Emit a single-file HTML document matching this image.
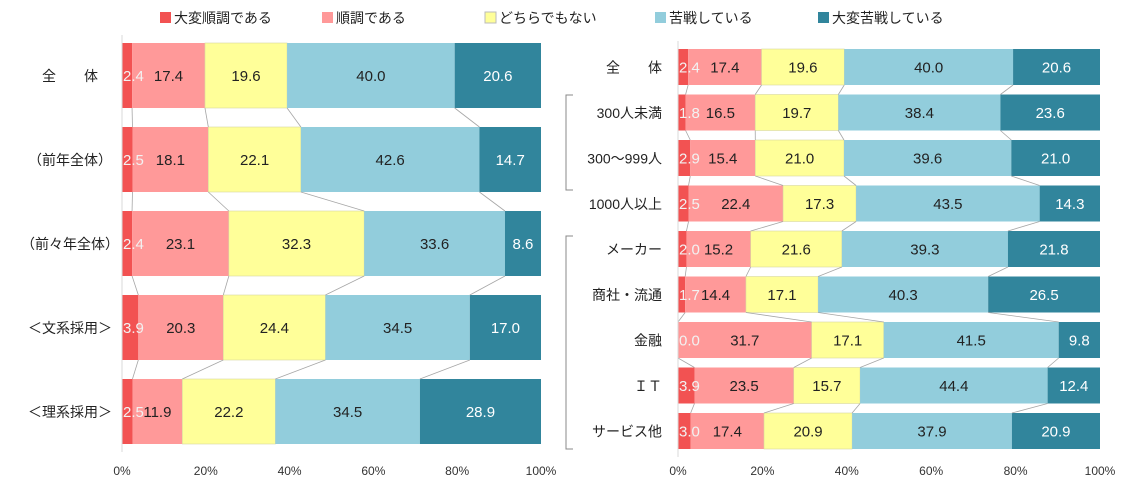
<!DOCTYPE html>
<html><head><meta charset="utf-8">
<style>
body{margin:0;background:#fff;}
svg{display:block;font-family:"Liberation Sans","Noto Sans CJK JP",sans-serif;}
</style></head>
<body>
<svg id="c" width="1131" height="492" viewBox="0 0 1131 492" xmlns="http://www.w3.org/2000/svg"></svg>
<script>
const seriesNames=["大変順調である","順調である","どちらでもない","苦戦している","大変苦戦している"];
const colors=["#f25252","#ff9999","#ffff99","#92cddc","#31859c"];
const labelColors=["#f2f2f2","#222","#222","#222","#fff"];
const leftCats=["全　　体","（前年全体）","（前々年全体）","＜文系採用＞","＜理系採用＞"];
const leftS1=[2.4,2.5,2.4,3.9,2.5];
const leftS2=[17.4,18.1,23.1,20.3,11.9];
const leftS3=[19.6,22.1,32.3,24.4,22.2];
const leftS4=[40.0,42.6,33.6,34.5,34.5];
const leftS5=[20.6,14.7,8.6,17.0,28.9];
const rightCats=["全　　体","300人未満","300～999人","1000人以上","メーカー","商社・流通","金融","ＩＴ","サービス他"];
const rightS1=[2.4,1.8,2.9,2.5,2.0,1.7,0.0,3.9,3.0];
const rightS2=[17.4,16.5,15.4,22.4,15.2,14.4,31.7,23.5,17.4];
const rightS3=[19.6,19.7,21.0,17.3,21.6,17.1,17.1,15.7,20.9];
const rightS4=[40.0,38.4,39.6,43.5,39.3,40.3,41.5,44.4,37.9];
const rightS5=[20.6,23.6,21.0,14.3,21.8,26.5,9.8,12.4,20.9];
const ticks=["0%","20%","40%","60%","80%","100%"];

const svg=document.getElementById('c');
const NS="http://www.w3.org/2000/svg";
function mk(tag,attrs,parent){const e=document.createElementNS(NS,tag);for(const k in attrs)e.setAttribute(k,attrs[k]);(parent||svg).appendChild(e);return e;}

const legX=[160,322,485,655,818];
seriesNames.forEach((n,i)=>{
  const g=mk('g',{});
  
  
  mk('rect',{x:legX[i],y:12,width:11,height:11,fill:colors[i],stroke:i==2?'#bbb':'none'},g);
  const t=mk('text',{x:legX[i]+14,y:23,'font-size':14,fill:'#222'},g);t.textContent=n;
});

function chart(name,cats,series,x0,x1,y0,pitch,bh,labelX,anchor,fs){
  const g=mk('g',{});
  
  
  const xs=v=>x0+(x1-x0)*v/100;
  const n=cats.length;
  const bounds=[];const labels=[];
  for(let r=0;r<n;r++){
    const y=y0+r*pitch;
    let cum=0;const b=[];
    const tot=series.reduce((s,a)=>s+a[r],0);
    series.forEach((s,i)=>{
      const v=s[r]/tot*100;
      const xa=xs(cum),xb=xs(cum+v);
      const rect=mk('rect',{x:xa,y:y,width:Math.max(0,xb-xa),height:bh,fill:colors[i],stroke:i==2?'#d8d8a0':'none','stroke-width':0.6},g);
      
      
      labels.push({x:i==0?xa+1:(xa+xb)/2,y:y+bh/2+5.5,c:labelColors[i],a:i==0?'start':'middle',t:s[r].toFixed(1)});
      cum+=v;b.push(cum);
    });
    bounds.push(b);
    const ct=mk('text',{x:labelX,y:y+bh/2+5.5,'font-size':14,fill:'#222','text-anchor':anchor},g);
    ct.textContent=cats[r];
    
    
  }
  for(let r=0;r<n-1;r++){
    for(let i=0;i<4;i++){
      mk('line',{x1:xs(bounds[r][i]),y1:y0+r*pitch+bh,x2:xs(bounds[r+1][i]),y2:y0+(r+1)*pitch,stroke:'#a6a6a6','stroke-width':0.8},g);
    }
  }
  labels.forEach(l=>{
    const t=mk('text',{x:l.x,y:l.y,'font-size':fs,fill:l.c,'text-anchor':l.a},g);
    t.textContent=l.t;
    
    
  });
  mk('line',{x1:x0,y1:y0-8,x2:x0,y2:y0+(n-1)*pitch+bh+8,stroke:'#d9d9d9','stroke-width':1},g);
  ticks.forEach((tk,i)=>{
    const t=mk('text',{x:xs(i*20),y:475,'font-size':12,fill:'#333','text-anchor':'middle'},g);
    t.textContent=tk;
    
    
  });
}
chart('left-chart',leftCats,[leftS1,leftS2,leftS3,leftS4,leftS5],122,541,43,84,65,70,'middle',15);
chart('right-chart',rightCats,[rightS1,rightS2,rightS3,rightS4,rightS5],678,1100,49,45.5,36,662,'end',15);
[[95,190],[236,449]].forEach(([a,b])=>{
  const p=mk('path',{d:`M573 ${a} H566 V${b} H573`,fill:'none',stroke:'#888','stroke-width':1});
  
  
});
</script>
</body></html>
